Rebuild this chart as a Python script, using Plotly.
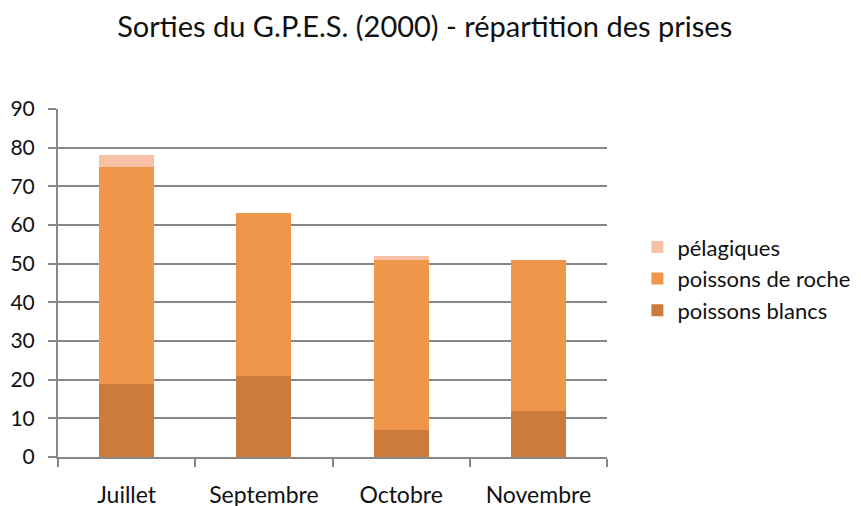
import plotly.graph_objects as go

categories = ["Juillet", "Septembre", "Octobre", "Novembre"]
poissons_blancs = [19, 21, 7, 12]
poissons_de_roche = [56, 42, 44, 39]
pelagiques = [3, 0, 1, 0]
y_ticks = [0, 10, 20, 30, 40, 50, 60, 70, 80, 90]

font_family = "Lato, 'Open Sans', sans-serif"

fig = go.Figure()
fig.add_trace(go.Bar(name="poissons blancs", x=categories, y=poissons_blancs,
                     marker=dict(color="#CB7B3B", line=dict(width=0))))
fig.add_trace(go.Bar(name="poissons de roche", x=categories, y=poissons_de_roche,
                     marker=dict(color="#F0964B", line=dict(width=0))))
fig.add_trace(go.Bar(name="pélagiques", x=categories, y=pelagiques,
                     marker=dict(color="#F7C1A6", line=dict(width=0))))

fig.update_layout(
    barmode="stack",
    bargap=0.6,
    width=861, height=506,
    paper_bgcolor="white", plot_bgcolor="white",
    margin=dict(l=50, r=262, t=101, b=57),
    font=dict(family=font_family, color="#111111"),
    title=dict(text="Sorties du G.P.E.S. (2000) - répartition des prises",
               x=0.484, xanchor="center", y=0.962, yanchor="middle",
               font=dict(size=29, family=font_family, color="#111111")),
    legend=dict(traceorder="reversed", xref="container", yref="container",
                x=0.731, xanchor="left", y=0.465, yanchor="middle",
                font=dict(size=22, family=font_family, color="#111111"),
                itemwidth=30, tracegroupgap=0, bgcolor="rgba(0,0,0,0)"),
    showlegend=True,
)
fig.update_xaxes(
    showgrid=False, showline=True, linecolor="#878787", linewidth=2,
    ticks="outside", tickson="boundaries", ticklen=8, tickwidth=2, tickcolor="#878787",
    tickfont=dict(size=23, family=font_family, color="#111111"),
    ticklabelstandoff=16, automargin=False,
)
fig.update_yaxes(
    range=[0, 90], tickvals=y_ticks,
    showgrid=True, gridcolor="#878787", gridwidth=2,
    showline=True, linecolor="#878787", linewidth=2,
    ticks="outside", ticklen=8, tickwidth=2, tickcolor="#878787",
    tickfont=dict(size=21, family=font_family, color="#111111"),
    ticklabelstandoff=9, zeroline=False, automargin=False,
)

fig.write_html("out.html")
